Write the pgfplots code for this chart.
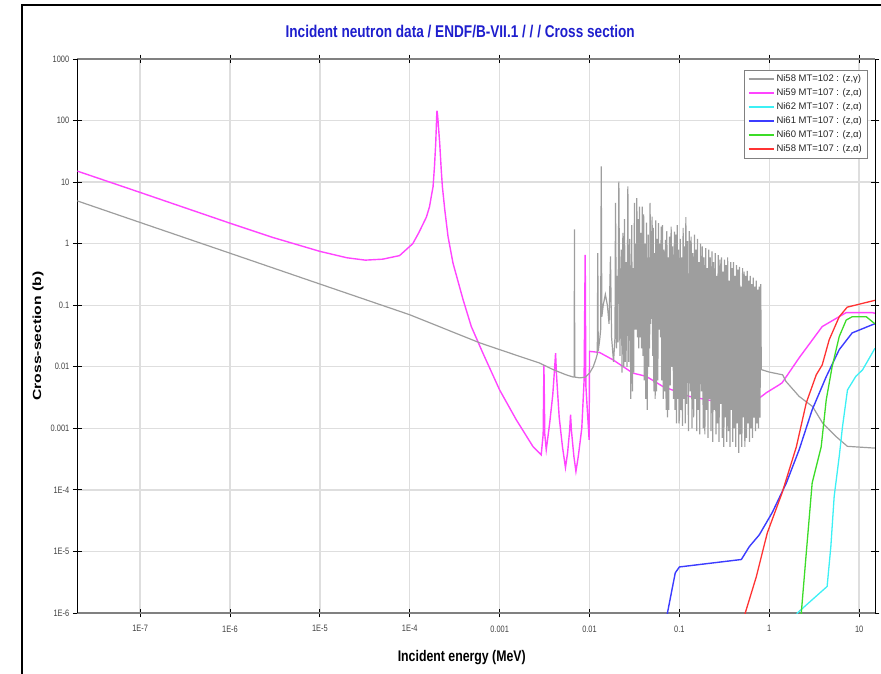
\documentclass[border=0pt]{standalone}
\usepackage{graphicx}
\usepackage{fontspec}
\usepackage{pgfplots}
\pgfplotsset{compat=1.18}
\newfontfamily\narrowfont{Liberation Sans}[FakeStretch=0.8]
\newfontfamily\plainfont{Liberation Sans}
\definecolor{cgrey}{RGB}{158,158,158}
\definecolor{cmag}{RGB}{255,68,255}
\definecolor{ccyan}{RGB}{60,240,245}
\definecolor{cblue}{RGB}{60,60,255}
\definecolor{cgreen}{RGB}{60,220,40}
\definecolor{cred}{RGB}{255,50,50}
\definecolor{ctitle}{RGB}{30,30,205}
\begin{document}
\begin{tikzpicture}
\path[use as bounding box] (0bp,0bp) rectangle (881bp,674bp);
\draw[black, line width=1.3bp] (22bp,0bp) -- (22bp,669bp) -- (881bp,669bp);
\begin{axis}[
  at={(77.3bp,61bp)}, anchor=south west, scale only axis,
  width=797.7bp, height=554bp,
  xmode=log, ymode=log,
  xmin=2e-8, xmax=15, ymin=1e-6, ymax=1000,
  xtick={1e-7,1e-6,1e-5,1e-4,1e-3,1e-2,1e-1,1,10},
  xticklabels={1E-7,1E-6,1E-5,1E-4,0.001,0.01,0.1,1,10},
  ytick={1e-6,1e-5,1e-4,1e-3,1e-2,1e-1,1,10,100,1000},
  yticklabels={1E-6,1E-5,1E-4,0.001,0.01,0.1,1,10,100,1000},
  xminorticks=false, yminorticks=false,
  grid=major, major grid style={draw=black!13, line width=1.4bp},
  tick align=center, major tick length=9bp,
  tick style={black, line width=0.8bp},
  separate axis lines,
  x axis line style={line width=2bp, draw=black!50},
  y axis line style={line width=0.9bp, draw=black},
  ticklabel style={font=\fontsize{9.3bp}{10bp}\selectfont\narrowfont, text=black!75},
  xticklabel style={yshift=-4.5bp},
  title={Incident neutron data / ENDF/B-VII.1 / / / Cross section},
  title style={at={(axis description cs:0.48,1.0397)}, anchor=center, font=\fontsize{17bp}{18bp}\selectfont\narrowfont\bfseries, text=ctitle},
  xlabel={Incident energy (MeV)},
  xlabel style={at={(axis description cs:0.482,-0.081)}, anchor=center, font=\fontsize{15.4bp}{16bp}\selectfont\narrowfont\bfseries},
  ylabel={\scalebox{1}[0.75]{Cross-section (b)}},
  ylabel style={at={(axis description cs:-0.0493,0.5)}, anchor=center, font=\fontsize{15.7bp}{16bp}\selectfont\plainfont\bfseries},
  legend style={at={(0.99,0.98)}, anchor=north east, draw=black!50, fill=white,
    font=\fontsize{9.5bp}{10bp}\selectfont\plainfont, text=black!85,
    inner xsep=3bp, inner ysep=2bp,
    nodes={inner ysep=2.5bp, inner xsep=2bp, text height=7bp, text depth=2bp}},
  legend cell align=left,
  legend image code/.code={\draw[#1] (0bp,0bp) -- (25bp,0bp);},
]
\addlegendimage{color=cgrey, line width=2bp}\addlegendentry{Ni58 MT=102 : (z,γ)}
\addlegendimage{color=cmag, line width=2bp}\addlegendentry{Ni59 MT=107 : (z,α)}
\addlegendimage{color=ccyan, line width=2bp}\addlegendentry{Ni62 MT=107 : (z,α)}
\addlegendimage{color=cblue, line width=2bp}\addlegendentry{Ni61 MT=107 : (z,α)}
\addlegendimage{color=cgreen, line width=2bp}\addlegendentry{Ni60 MT=107 : (z,α)}
\addlegendimage{color=cred, line width=2bp}\addlegendentry{Ni58 MT=107 : (z,α)}

% Ni59 (n,alpha)
\addplot[cmag, line width=1.4bp, forget plot] table {
2e-8 15.1
1e-7 6.8
1e-6 2.15
3e-6 1.26
1e-5 0.75
2e-5 0.59
3.2e-5 0.54
5e-5 0.56
7.7e-5 0.64
1.08e-4 1.0
1.259e-4 1.5
1.531e-4 2.7
1.660e-4 4.0
1.758e-4 6.5
1.816e-4 8.4
1.884e-4 18
1.945e-4 43
1.995e-4 120
2.009e-4 145
2.042e-4 120
2.153e-4 43
2.239e-4 16
2.307e-4 8.4
2.455e-4 3.5
2.667e-4 1.3
3.03e-4 0.48
3.92e-4 0.123
4.84e-4 0.045
6.52e-4 0.0166
1.0e-3 0.0042
1.53e-3 0.00138
2.34e-3 5.1e-4
2.9e-3 3.7e-4
3.05e-3 8e-4
3.11e-3 0.0107
3.18e-3 8e-4
3.3e-3 4.5e-4
3.6e-3 0.0012
3.9e-3 0.0035
4.1e-3 0.010
4.19e-3 0.0166
4.3e-3 0.007
4.6e-3 0.0015
5.0e-3 5e-4
5.4e-3 2.3e-4
5.7e-3 4e-4
6.0e-3 0.0009
6.15e-3 0.00166
6.3e-3 9e-4
6.7e-3 3.5e-4
7.06e-3 2.0e-4
7.5e-3 3.5e-4
8.2e-3 0.001
8.7e-3 0.006
8.95e-3 0.66
9.1e-3 0.005
9.9e-3 6.5e-4
1.0e-2 0.0178
0.0129 0.0171
0.0182 0.013
0.0303 0.0079
0.0427 0.0070
0.0652 0.0048
0.129 0.0033
0.234 0.0028
0.774 0.0031
0.93 0.0038
1.29 0.0051
1.39 0.0055
2.15 0.014
3.88 0.045
7.18 0.076
13.9 0.076
15 0.074
};

% Ni58 (n,gamma)
\addplot[cgrey, line width=1.2bp, forget plot] table {
2e-8 4.95
1e-7 2.21
1e-6 0.70
1e-5 0.221
1e-4 0.070
6e-4 0.0245
1e-3 0.019
2e-3 0.0135
2.78e-3 0.0115
4e-3 0.0089
5.5e-3 0.0074
6.6e-3 0.0068
6.75e-3 0.0068
6.8e-3 1.7
6.85e-3 0.0068
7.8e-3 0.0066
9e-3 0.0068
0.010 0.0079
0.011 0.0100
0.0118 0.0135
0.0122 0.016
0.01236 0.70
0.0125 0.018
0.0130 0.028
0.0133 0.040
0.0135 18
0.0137 0.065
0.0142 0.10
0.0150 0.15
0.0158 0.10
0.0165 0.05
0.0171 0.62
0.0176 0.03
0.0185 0.012
0.0192 0.03
0.01945 4.6
0.0200 0.02
0.0203 0.3
0.0207 0.025
0.0212 10.2
0.0218 0.015
0.0225 0.8
0.0230 0.008
0.0235 1.5
0.0240 0.01
0.0245 2.5
0.0250 0.012
0.0256 0.5
0.0261 0.01
0.0267 8.5
0.0273 0.012
0.0280 1.2
0.0288 0.003
0.0295 2.0
0.0300 0.004
0.0305 0.4
0.0310 0.008
0.0316 4.6
0.0321 0.04
0.0326 1.0
0.0331 0.04
0.0336 5.5
0.0342 0.03
0.0348 2.5
0.0353 0.02
0.0359 4.0
0.0365 0.03
0.0372 1.5
0.0379 0.02
0.0386 4.0
0.0393 0.015
0.0400 3.0
0.0407 0.006
0.0415 1.0
0.0422 0.003
0.0430 2.2
0.0438 0.002
0.0450 1.4
0.0455 0.01
0.0460 0.6
0.0466 0.02
0.0472 4.6
0.0478 0.05
0.0485 1.6
0.0491 0.06
0.0497 2.75
0.0504 0.015
0.0512 1.8
0.0520 0.004
0.0530 0.7
0.0537 0.003
0.0545 2.4
0.0555 0.004
0.0565 1.2
0.0575 0.006
0.0585 2.15
0.0595 0.04
0.0605 1.0
0.0616 0.03
0.0627 1.9
0.0637 0.006
0.0648 2.0
0.0660 0.003
0.0672 0.8
0.0685 0.004
0.0699 1.15
0.0712 0.002
0.0725 1.6
0.0737 0.0015
0.0750 0.6
0.0762 0.002
0.0775 1.3
0.0792 0.005
0.0809 1.9
0.0824 0.01
0.0840 0.9
0.0860 0.003
0.0880 1.57
0.0895 0.002
0.0910 1.4
0.0928 0.0012
0.0945 2.0
0.0960 0.003
0.0975 0.8
0.0988 0.0012
0.100 0.0015
0.102 1.2
0.104 0.002
0.106 0.6
0.108 0.0011
0.110 1.8
0.112 0.003
0.114 0.9
0.116 0.0012
0.118 2.7
0.120 0.0025
0.123 1.1
0.126 0.0009
0.129 1.6
0.132 0.004
0.135 1.3
0.138 0.0010
0.141 0.7
0.144 0.0015
0.147 1.4
0.150 0.0030
0.153 0.8
0.156 0.0009
0.159 1.2
0.162 0.0020
0.165 0.5
0.168 0.0008
0.172 1.0
0.176 0.0040
0.180 0.9
0.184 0.0010
0.188 0.6
0.192 0.0008
0.196 0.85
0.200 0.0020
0.204 0.4
0.208 0.0007
0.212 0.8
0.216 0.0030
0.220 0.6
0.225 0.0009
0.230 0.75
0.235 0.0006
0.240 0.5
0.245 0.0020
0.250 0.7
0.255 0.0008
0.260 0.3
0.265 0.0012
0.270 0.65
0.276 0.0006
0.282 0.55
0.288 0.0025
0.294 0.6
0.300 0.0007
0.306 0.35
0.312 0.0005
0.318 0.55
0.324 0.0015
0.330 0.45
0.337 0.0006
0.344 0.6
0.351 0.0009
0.358 0.25
0.365 0.0005
0.372 0.5
0.379 0.0020
0.386 0.4
0.393 0.0006
0.400 0.5
0.408 0.0010
0.416 0.3
0.424 0.0005
0.432 0.45
0.440 0.0012
0.449 0.38
0.458 0.0004
0.467 0.42
0.476 0.0008
0.485 0.2
0.495 0.0005
0.505 0.4
0.515 0.0015
0.525 0.35
0.535 0.0005
0.546 0.3
0.557 0.0007
0.568 0.36
0.579 0.0012
0.590 0.25
0.602 0.0006
0.614 0.3
0.626 0.0010
0.638 0.22
0.650 0.0007
0.663 0.28
0.676 0.0015
0.689 0.2
0.702 0.0009
0.716 0.25
0.730 0.0012
0.744 0.18
0.758 0.0010
0.773 0.2
0.788 0.0015
0.803 0.22
0.815 0.009
1.0 0.0082
1.41 0.0074
1.53 0.0058
2.15 0.0033
3.03 0.00226
3.92 0.00122
5.5 7.4e-4
7.4 5.1e-4
14.1 4.8e-4
15 4.8e-4
};

% Ni62 (n,alpha)
\addplot[ccyan, line width=1.3bp, forget plot] table {
2.0 9e-7
2.05 1e-6
4.4 2.7e-6
4.84 1.2e-5
5.27 7.8e-5
6.0 3.5e-4
6.53 0.00107
7.41 0.0042
9.18 0.0070
10.9 0.0089
14.7 0.019
15 0.020
};

% Ni61 (n,alpha)
\addplot[cblue, line width=1.4bp, forget plot] table {
0.072 8e-7
0.0736 1e-6
0.084 2.7e-6
0.09 4.5e-6
0.1 5.6e-6
0.489 7.4e-6
0.6 1.2e-5
0.774 1.86e-5
1.08 4.3e-5
1.55 1.3e-4
2.15 4.5e-4
3.0 0.002
4.3 0.0069
6.0 0.019
8.36 0.0355
13.9 0.048
15 0.050
};

% Ni60 (n,alpha)
\addplot[cgreen, line width=1.3bp, forget plot] table {
2.25 8e-7
2.27 1e-6
2.58 9.5e-6
3.0 1.3e-4
3.78 5e-4
4.3 0.0029
5.0 0.010
6.0 0.031
7.18 0.0575
8.36 0.065
12.0 0.065
14.7 0.051
15 0.050
};

% Ni58 (n,alpha)
\addplot[cred, line width=1.3bp, forget plot] table {
0.52 8e-7
0.54 1e-6
0.718 3.9e-6
0.95 2.0e-5
1.39 9.0e-5
2.0 5.0e-4
2.58 0.0026
3.33 0.0074
3.88 0.0107
4.64 0.0275
6.0 0.065
7.36 0.093
13.9 0.117
15 0.120
};
\end{axis}
\end{tikzpicture}
\end{document}
